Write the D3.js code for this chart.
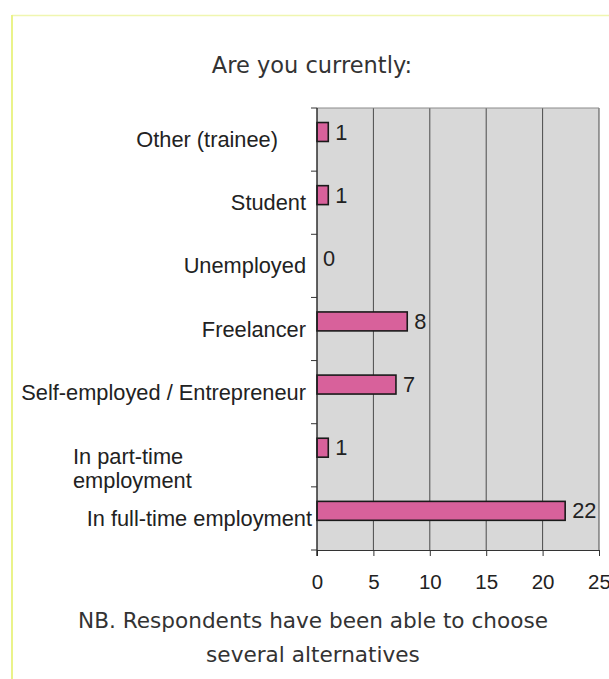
<!DOCTYPE html>
<html>
<head>
<meta charset="utf-8">
<script src="https://cdn.jsdelivr.net/npm/d3@7/dist/d3.min.js"></script>
<style>
  html, body { margin: 0; padding: 0; background: #ffffff; }
  svg { display: block; }
</style>
</head>
<body>
<svg id="chart" width="609" height="679"></svg>
<script>
// Survey answers: "Are you currently:" (respondents could pick several)
const categories = [
  "Other (trainee)",
  "Student",
  "Unemployed",
  "Freelancer",
  "Self-employed / Entrepreneur",
  "In part-time employment",
  "In full-time employment"
];
const counts = [1, 1, 0, 8, 7, 1, 22];
const xTicks = [0, 5, 10, 15, 20, 25];
const title = "Are you currently:";
const note = ["NB. Respondents have been able to choose", "several alternatives"];

const W = 609, H = 679;
const plot = { left: 317, right: 599, top: 108, bottom: 550 };
const chartFont = "Liberation Sans, Arial, sans-serif";
const pageFont = "DejaVu Sans, Verdana, sans-serif";
const chartSize = 21.8;

const svg = d3.select("#chart");

// page frame (thin yellow rule along top and left)
svg.append("line").attr("x1", 12).attr("x2", W).attr("y1", 15.5).attr("y2", 15.5)
  .attr("stroke", "#f0f6b0").attr("stroke-width", 1.5);
svg.append("line").attr("x1", 12).attr("x2", 12).attr("y1", 15).attr("y2", H)
  .attr("stroke", "#eaf38a").attr("stroke-width", 2);

const x = d3.scaleLinear().domain([0, 25]).range([plot.left, plot.right]);
const y = d3.scaleBand().domain(categories).range([plot.top, plot.bottom]).padding(0);
const bw = y.bandwidth();

const data = categories.map((c, i) => ({ cat: c, value: counts[i] }));

// plot background
svg.append("rect")
  .attr("x", plot.left).attr("y", plot.top)
  .attr("width", plot.right - plot.left).attr("height", plot.bottom - plot.top)
  .attr("fill", "#d8d8d8");

// vertical gridlines
svg.append("g").selectAll("line")
  .data(xTicks.slice(1))
  .join("line")
  .attr("x1", d => x(d)).attr("x2", d => x(d))
  .attr("y1", plot.top).attr("y2", plot.bottom)
  .attr("stroke", "#4a4a4a").attr("stroke-width", 1);

// top border of plot
svg.append("line").attr("x1", plot.left).attr("x2", plot.right)
  .attr("y1", plot.top).attr("y2", plot.top)
  .attr("stroke", "#8a8a8a").attr("stroke-width", 1);

// bars
svg.append("g").selectAll("rect")
  .data(data.filter(d => d.value > 0))
  .join("rect")
  .attr("x", x(0))
  .attr("y", d => y(d.cat) + bw * 0.23)
  .attr("width", d => x(d.value) - x(0))
  .attr("height", bw * 0.3)
  .attr("fill", "#d8619b")
  .attr("stroke", "#1a1a1a")
  .attr("stroke-width", 1.6);

// value labels
svg.append("g").selectAll("text")
  .data(data)
  .join("text")
  .attr("x", d => x(d.value) + (d.value > 0 ? 7 : 6))
  .attr("y", d => y(d.cat) + bw * 0.38)
  .attr("dy", "0.35em")
  .attr("font-family", chartFont)
  .attr("font-size", chartSize)
  .attr("fill", "#222")
  .text(d => d.value);

// x axis
const xAxis = d3.axisBottom(x).tickValues(xTicks).tickSize(6).tickPadding(18).tickSizeOuter(0);
const gx = svg.append("g").attr("transform", `translate(0,${plot.bottom})`).call(xAxis);
gx.select(".domain").attr("stroke", "#333").attr("stroke-width", 1.2);
gx.selectAll(".tick line").attr("stroke", "#333");
gx.selectAll(".tick text")
  .attr("font-family", chartFont)
  .attr("font-size", 20.5)
  .attr("fill", "#222");

// y axis: ticks mark the band boundaries
const gy = svg.append("g");
gy.append("line").attr("x1", plot.left).attr("x2", plot.left)
  .attr("y1", plot.top).attr("y2", plot.bottom + 6)
  .attr("stroke", "#222").attr("stroke-width", 1.4);
gy.selectAll("line.sep")
  .data(categories.concat([null]))
  .join("line").attr("class", "sep")
  .attr("x1", plot.left - 6).attr("x2", plot.left)
  .attr("y1", (d, i) => plot.top + i * bw).attr("y2", (d, i) => plot.top + i * bw)
  .attr("stroke", "#333").attr("stroke-width", 1);

// category labels
const wrapped = { "In part-time employment": ["In part-time", "employment"] };
categories.forEach(c => {
  const cy = y(c) + bw / 2;
  if (wrapped[c]) {
    const t = svg.append("text")
      .attr("x", 73).attr("y", cy + 1)
      .attr("font-family", chartFont).attr("font-size", chartSize).attr("fill", "#222");
    wrapped[c].forEach((line, k) => {
      t.append("tspan").attr("x", 73).attr("dy", k === 0 ? "0.35em" : "1.1em").text(line);
    });
  } else {
    svg.append("text")
      .attr("x", c === "Other (trainee)" ? 278 : (c === "In full-time employment" ? 312 : 306))
      .attr("y", cy).attr("dy", "0.35em")
      .attr("text-anchor", "end")
      .attr("font-family", chartFont).attr("font-size", chartSize).attr("fill", "#222")
      .text(c);
  }
});

// title
svg.append("text")
  .attr("x", 312).attr("y", 73)
  .attr("text-anchor", "middle")
  .attr("font-family", pageFont)
  .attr("font-size", 22.5)
  .attr("fill", "#333")
  .text(title);

// footnote
svg.append("g").selectAll("text")
  .data(note)
  .join("text")
  .attr("x", 313)
  .attr("y", (d, i) => 628 + i * 34)
  .attr("text-anchor", "middle")
  .attr("font-family", pageFont)
  .attr("font-size", 21.6)
  .attr("fill", "#333")
  .text(d => d);
</script>
</body>
</html>
